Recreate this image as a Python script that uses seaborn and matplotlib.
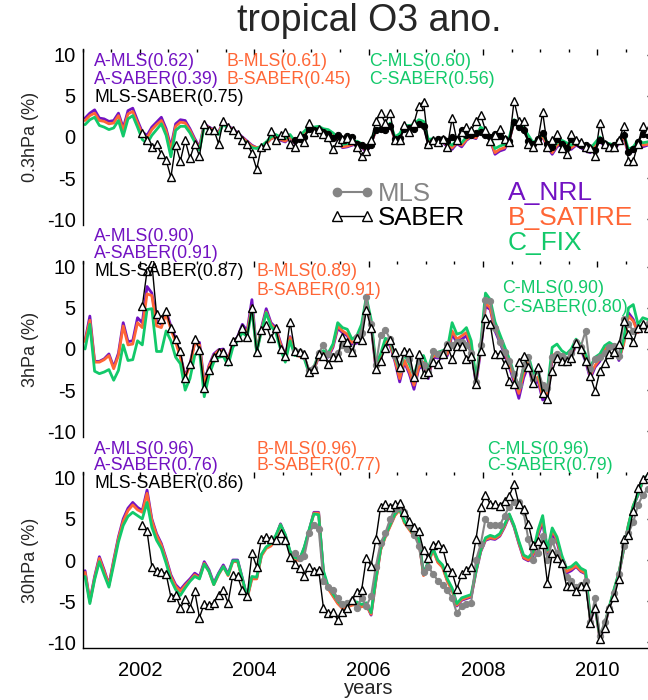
import numpy as np
import seaborn as sns
import matplotlib.pyplot as plt
from matplotlib.lines import Line2D
from matplotlib.legend_handler import HandlerLine2D
from matplotlib.ticker import MultipleLocator

# monthly anomalies (%), Jan 2001 - Dec 2010, mid-month time axis
years = 2001 + (np.arange(120) + 0.5) / 12.0
saber_start = 12   # SABER from Jan 2002
mls_start = 44     # MLS from Sep 2004

# ---------------- 0.3 hPa ----------------
A1 = [2.3, 2.9, 3.3, 2.3, 2.2, 1.9, 2.0, 2.9, 1.1, 3.2, 3.5, 2.0,
      0.6, 0.2, 1.2, 1.8, 2.4, 1.0, -1.2, 1.6, 2.1, 2.0, 1.0, -0.2,
      -1.2, 1.6, 1.2, 0.9, 0.6, 1.9, 1.3, 1.0, 0.5, 0.0, -0.5, -1.0,
      -1.3, -1.2, -0.8, -0.2, 0.0, -0.4, -0.6, 0.0, -0.8, -0.2, 0.4, 1.2,
      1.0, 1.1, 0.8, 0.7, 0.2, -0.4, -1.3, -1.2, -1.0, -0.8, -1.2, -1.9,
      -0.8, 0.8, 0.8, 0.6, 1.5, -0.4, 0.0, 1.2, 1.2, 1.3, 1.9, 1.7,
      -0.8, -0.6, -1.0, -0.6, -1.2, -1.5, -0.8, -1.2, -0.4, 0.0, -0.2, 1.0,
      0.6, -0.4, -2.1, -1.7, -1.5, -0.4, 1.9, 1.5, 0.8, -0.2, -1.2, -0.6,
      0.0, -1.2, -2.1, -1.2, -0.8, -1.2, -1.5, -1.0, -1.3, -1.7, -1.9, -1.2,
      -0.4, -1.2, -1.3, -1.5, -0.8, 0.0, -2.1, -1.7, -0.8, -1.2, -1.0, -0.8]
B1 = [2.0, 2.6, 2.9, 2.0, 1.9, 1.6, 1.7, 2.6, 0.8, 2.8, 3.1, 1.7,
      0.3, -0.1, 0.9, 1.5, 2.0, 0.7, -1.6, 1.3, 1.8, 1.7, 0.8, -0.4,
      -1.4, 1.5, 1.1, 0.8, 0.5, 1.8, 1.2, 0.9, 0.4, -0.1, -0.6, -1.1,
      -1.3, -1.2, -0.8, -0.2, 0.0, -0.3, -0.5, 0.1, -0.7, -0.1, 0.5, 1.2,
      1.0, 1.1, 0.8, 0.7, 0.2, -0.3, -1.2, -1.1, -0.9, -0.7, -1.1, -1.7,
      -0.7, 0.8, 0.8, 0.6, 1.5, -0.3, 0.1, 1.2, 1.2, 1.3, 1.9, 1.7,
      -0.6, -0.5, -0.8, -0.5, -1.0, -1.3, -0.7, -1.0, -0.3, 0.1, -0.1, 1.0,
      0.6, -0.3, -1.9, -1.5, -1.3, -0.3, 1.9, 1.5, 0.8, -0.1, -1.0, -0.5,
      0.1, -1.0, -1.9, -1.0, -0.7, -1.0, -1.3, -0.9, -1.1, -1.5, -1.7, -1.0,
      -0.3, -1.0, -1.1, -1.3, -0.7, 0.1, -1.9, -1.5, -0.7, -1.0, -0.9, -0.7]
C1 = [1.5, 2.1, 2.4, 1.4, 1.2, 0.9, 1.1, 2.0, 0.1, 2.2, 2.6, 1.2,
      -0.3, -0.8, 0.2, 0.9, 1.6, 0.2, -2.4, 0.8, 1.3, 1.3, 0.5, -0.6,
      -1.6, 1.3, 0.9, 0.6, 0.3, 1.6, 1.0, 0.7, 0.2, -0.3, -0.8, -1.3,
      -1.4, -1.1, -0.6, 0.0, 0.3, 0.0, -0.2, 0.3, -0.5, 0.1, 0.7, 1.3,
      1.2, 1.3, 1.0, 0.9, 0.5, 0.0, -0.9, -0.8, -0.7, -0.5, -0.8, -1.4,
      -0.4, 1.0, 1.0, 0.8, 1.7, 0.0, 0.4, 1.4, 1.4, 1.5, 2.1, 1.9,
      -0.3, -0.2, -0.5, -0.2, -0.7, -1.0, -0.4, -0.7, 0.0, 0.4, 0.2, 1.2,
      0.8, 0.0, -1.4, -1.1, -0.9, 0.0, 2.1, 1.7, 1.1, 0.2, -0.7, -0.2,
      0.4, -0.7, -1.5, -0.7, -0.4, -0.7, -1.0, -0.6, -0.8, -1.2, -1.4, -0.7,
      0.0, -0.7, -0.8, -1.0, -0.4, 0.4, -1.5, -1.2, -0.4, -0.7, -0.6, -0.4]
SABER1 = [0.5, -0.4, -1.2, -0.9, -2.1, -2.8, -4.9, -1.0, -2.9, -0.4, -2.6, -0.8,
          -2.3, 1.6, 0.8, 0.9, -0.8, 2.0, 1.2, 0.9, 0.4, -0.4, -0.8, -2.0,
          -3.9, -1.2, -1.0, 0.7, -0.4, 0.2, 0.6, -0.8, -1.2, 0.2, -0.6, 1.7,
          0.6, 1.0, 0.4, 0.0, -1.5, -0.6, -0.2, -0.1, -0.4, -1.2, -2.3, -1.7,
          -0.4, 1.9, 2.9, 1.7, 2.9, -0.4, -0.4, 1.5, 0.6, 1.7, 3.8, 4.3,
          -0.8, -0.4, -0.6, -0.3, -1.2, 2.3, -0.4, 0.6, 1.2, 0.8, 1.9, 2.7,
          0.8, -0.5, 0.3, 1.0, -0.2, -0.6, 4.4, 1.9, 1.9, -0.8, -1.2, -0.4,
          3.0, -1.2, -0.4, 0.4, -1.3, -2.1, 0.4, -0.4, -0.6, -1.2, -1.3, -2.3,
          1.7, -0.8, -1.2, -1.2, -0.4, 1.3, -2.9, -2.9, -0.8, 1.3, 0.8, 0.4]
MLS1 = [-0.4, -0.2, 0.0, 1.0,
        0.9, 0.8, 0.6, 0.4, -0.1, 0.2, -0.3, 0.1, 0.0, -0.8, -1.0, -1.2,
        -1.0, 0.9, 1.0, 0.8, 1.3, -0.2, -0.1, 1.0, 1.1, 1.0, 1.6, 1.3,
        -1.0, -0.5, -0.3, -0.2, -0.5, 0.0, -0.3, 0.9, 0.2, 0.3, 0.5, 0.6,
        0.2, 0.0, 0.4, 0.1, -0.3, -0.5, 1.8, 1.2, 0.8, -0.5, -0.8, -0.2,
        0.5, -0.8, -1.2, -0.3, -0.9, -1.3, -0.3, -0.6, -1.0, -1.0, -1.4, -1.6,
        -0.4, -0.9, -1.2, -1.0, -0.5, 0.3, -1.8, -1.5, -0.6, 0.4, 0.2, 0.0]

# ---------------- 3 hPa ----------------
A2 = [1.0, 4.0, -1.5, -1.5, -1.2, -0.6, -2.2, -0.5, 3.2, 0.9, 1.0, 3.8,
      3.2, 7.6, 6.8, 3.4, 3.0, 4.6, 2.8, 1.2, -0.8, -3.3, -1.8, 0.8,
      0.8, -4.2, -2.0, -0.6, -0.1, 0.0, -1.2, 0.7, 1.5, 3.0, 2.2, 6.0,
      -0.3, 2.6, 4.9, 3.2, 2.6, 0.8, -0.8, 1.5, -0.5, -0.8, -1.0, -2.8,
      -2.5, -1.0, -0.5, -1.0, 0.2, 2.5, 2.0, 1.6, 0.6, 0.7, 2.3, 6.0,
      3.0, -2.4, -1.2, 0.8, 0.4, -1.5, -4.0, -1.6, -3.0, -4.9, -2.4, -2.0,
      -3.6, -1.0, -1.1, -1.1, -0.8, 1.8, 0.8, 1.2, 1.6, 0.0, -4.2, -0.2,
      5.2, 4.8, 2.2, 0.8, -0.6, -2.2, -4.0, -6.0, -3.5, -2.0, -4.5, -3.8,
      -6.2, -5.8, -1.2, -0.8, -1.4, -1.8, -1.0, 0.5, 0.0, -1.5, -3.6, -2.2,
      -1.5, -0.2, 0.2, 0.0, -1.4, 0.8, 4.4, 3.6, 2.0, 2.7, 2.6, 2.8]
B2 = [0.9, 3.5, -1.6, -1.6, -1.3, -0.8, -2.4, -0.8, 2.8, 0.5, 0.6, 3.2,
      2.6, 6.7, 6.5, 2.8, 2.6, 4.3, 2.4, 0.8, -1.0, -3.5, -2.0, 0.7,
      0.5, -4.4, -2.2, -0.8, -0.2, -0.2, -1.3, 0.6, 1.3, 2.6, 2.0, 5.2,
      -0.3, 2.4, 4.5, 3.0, 2.4, 0.6, -0.9, 1.4, -0.6, -0.9, -1.0, -2.8,
      -2.4, -0.9, -0.4, -0.8, 0.4, 2.8, 2.2, 1.8, 0.8, 1.0, 2.5, 6.0,
      3.2, -2.2, -1.0, 1.0, 0.6, -1.3, -3.6, -1.4, -2.7, -4.4, -2.2, -1.6,
      -3.3, -0.8, -0.9, -0.8, -0.6, 2.2, 1.2, 1.6, 2.0, 0.4, -3.9, 0.2,
      5.6, 5.0, 2.5, 1.2, -0.3, -1.8, -3.6, -5.4, -3.0, -1.6, -4.0, -3.4,
      -5.8, -5.4, -0.8, -0.5, -1.2, -1.5, -0.8, 0.7, 0.2, -1.2, -3.2, -2.0,
      -1.2, 0.0, 0.4, 0.2, -1.2, 0.6, 4.0, 3.4, 2.0, 2.6, 2.5, 2.7]
C2 = [0.0, 3.0, -2.7, -3.0, -2.8, -2.5, -3.8, -2.6, 0.5, -1.4, -1.3, 1.0,
      0.5, 4.8, 4.9, -0.3, -0.3, 2.2, 1.0, -1.0, -1.8, -5.0, -3.6, -0.8,
      -0.2, -5.8, -3.2, -1.6, -1.0, -0.9, -2.0, 0.2, 1.0, 2.0, 1.5, 4.8,
      -0.4, 2.2, 4.4, 2.8, 2.0, 0.0, -1.6, 1.0, -0.8, -0.7, -1.2, -3.0,
      -2.2, -0.6, -0.2, -0.5, 0.6, 3.2, 2.6, 2.4, 1.2, 1.6, 3.0, 6.3,
      3.6, -1.8, -0.6, 1.3, 1.0, -0.9, -2.5, -0.6, -1.8, -3.2, -1.2, -0.8,
      -2.4, -0.4, -0.4, -0.2, 0.0, 3.2, 1.8, 2.0, 2.6, 1.0, -3.6, 0.6,
      6.8, 6.0, 3.3, 1.8, 0.3, -1.2, -3.0, -4.8, -2.2, -0.8, -3.0, -2.6,
      -5.0, -4.8, 0.2, 0.6, -0.2, -0.6, 0.0, 1.2, 0.5, -0.6, -2.2, -1.0,
      -0.6, 0.4, 0.8, 0.4, -1.2, 1.2, 5.0, 5.4, 3.0, 3.8, 3.6, 3.4]
SABER2 = [5.2, 9.5, 10.5, 4.2, 3.6, 4.6, 2.6, 1.2, -0.3, -3.5, -1.8, 1.2,
          -0.1, -4.7, -2.5, -1.0, -0.4, -0.4, -1.4, 1.0, 1.5, 2.5, 1.5, 5.0,
          -0.4, 2.3, 2.9, 1.3, 2.5, 0.0, -0.8, 3.3, -0.2, -0.4, -0.6, -2.8,
          -2.4, -0.6, -0.8, -1.8, -1.0, -1.0, 1.5, 0.9, -0.4, 1.3, 1.1, 4.7,
          2.5, -2.4, -1.4, 0.1, 1.1, -0.4, -2.2, -0.2, -0.4, -3.4, -0.6, -3.0,
          -2.8, -1.6, -1.8, -0.6, 0.4, -1.2, 0.4, 0.4, -1.2, -0.8, -4.2, -0.2,
          3.8, 3.0, -0.6, -0.6, -1.8, -3.9, -4.3, -1.6, -0.8, -2.2, -4.1, -2.2,
          -5.4, -6.1, -2.7, -1.1, -1.5, -1.5, -1.1, 0.7, 0.0, -1.5, -3.3, -5.1,
          -2.7, -1.7, -0.6, -0.4, 0.6, 3.4, 1.8, 0.8, 2.6, 3.0, 2.6, 2.8]
MLS2 = [-0.2, -0.4, -0.8, -2.6,
        -2.3, -0.5, 0.5, -0.6, -0.8, -0.5, 0.5, 0.0, -0.3, 1.5, 2.0, 6.3,
        3.0, -2.0, 1.7, 2.3, 1.2, -0.8, -2.4, -0.5, -1.2, -3.5, -1.5, -2.0,
        -2.8, -0.2, -0.6, -0.5, 0.6, 0.5, 0.8, 0.8, 0.5, -0.5, -4.0, 0.5,
        6.0, 5.8, 2.5, 0.8, -0.4, -1.5, -3.0, -4.4, -2.0, -1.0, -3.6, -2.5,
        -4.4, -4.8, -1.0, -0.6, -0.8, -1.2, -0.5, 0.8, 0.3, 2.2, -2.4, -1.2,
        -1.0, -0.5, 0.2, 0.4, -0.8, 3.6, 3.0, 2.2, 2.4, 2.8, 3.0, 3.2]

# ---------------- 30 hPa ----------------
A3 = [-1.3, -5.0, -2.0, 0.4, -1.2, -3.0, 0.0, 2.8, 5.0, 6.3, 7.0, 6.4,
      6.0, 8.5, 5.0, 3.2, 2.0, 0.2, -1.8, -3.0, -3.6, -2.9, -2.3, -1.6,
      -2.0, -0.2, -1.2, -2.8, -1.6, -0.6, -1.7, 0.0, 0.0, -2.2, -4.6, -2.1,
      -2.2, 0.6, 1.5, 1.8, 2.8, 4.4, 3.0, 1.0, 0.2, 0.0, 1.5, 3.6,
      5.8, 5.8, -1.5, -3.4, -4.3, -5.2, -5.8, -5.6, -5.4, -5.3, -5.6, -5.4,
      -6.7, -2.5, 1.3, 2.9, 4.2, 5.5, 6.2, 4.6, 3.8, 3.0, 2.5, -1.8,
      -0.3, 1.3, -0.2, -0.8, -2.5, -3.6, -5.6, -4.9, -4.7, -4.5, -1.5, 1.0,
      2.4, 2.6, 2.5, 2.9, 4.0, 5.4, 4.0, 2.0, 0.2, -0.1, 0.5, 2.9,
      4.6, 0.8, 3.2, 2.2, 0.0, -1.6, -1.3, -0.8, -1.4, -1.7, -7.4, -5.7,
      -9.6, -8.0, -5.8, -3.7, -1.7, 1.3, 4.2, 6.5, 7.9, 9.6, 10.2, 10.6]
B3 = [-1.5, -5.1, -2.2, 0.2, -1.4, -3.1, -0.2, 2.6, 4.7, 6.0, 6.7, 6.1,
      5.8, 8.1, 4.8, 3.0, 1.8, 0.0, -2.0, -3.2, -3.8, -3.1, -2.5, -1.8,
      -2.2, -0.4, -1.4, -3.0, -1.8, -0.8, -1.9, -0.2, -0.2, -2.4, -4.7, -2.3,
      -2.3, 0.5, 1.4, 1.7, 2.7, 4.3, 2.9, 0.9, 0.1, -0.1, 1.4, 3.5,
      5.7, 5.7, -1.6, -3.5, -4.4, -5.3, -5.9, -5.7, -5.5, -5.4, -5.7, -5.5,
      -6.6, -2.6, 1.2, 2.8, 4.1, 5.4, 6.1, 4.5, 3.7, 2.9, 2.4, -1.9,
      -0.4, 1.2, -0.3, -0.9, -2.6, -3.7, -5.5, -4.8, -4.6, -4.4, -1.4, 1.1,
      2.5, 2.7, 2.6, 3.0, 4.1, 5.5, 4.1, 2.1, 0.3, 0.0, 0.7, 3.2,
      5.0, 1.0, 3.6, 2.5, 0.2, -1.4, -1.1, -0.7, -1.3, -1.6, -7.3, -5.6,
      -9.5, -7.9, -5.7, -3.6, -1.6, 1.4, 4.3, 6.6, 8.0, 9.6, 10.2, 10.6]
C3 = [-2.0, -5.3, -2.4, -0.2, -1.8, -3.3, -0.6, 2.2, 4.2, 5.3, 5.8, 5.4,
      5.0, 7.0, 4.0, 2.4, 1.4, -0.4, -2.4, -3.6, -4.3, -3.4, -2.6, -2.0,
      -2.3, -0.5, -1.4, -3.0, -1.7, -0.8, -1.8, -0.1, -0.1, -2.3, -4.5, -2.0,
      -2.1, 0.7, 1.6, 2.0, 3.0, 4.3, 3.1, 1.1, 0.3, 0.1, 1.6, 3.7,
      5.6, 5.5, -1.3, -3.2, -4.1, -5.0, -5.6, -5.4, -5.2, -5.1, -5.4, -5.2,
      -6.4, -2.3, 1.4, 3.0, 4.3, 5.6, 6.2, 4.7, 3.9, 3.1, 2.6, -1.6,
      -0.2, 1.4, 0.0, -0.6, -2.3, -3.4, -5.3, -4.6, -4.4, -4.2, -1.3, 1.2,
      2.7, 3.0, 2.8, 3.2, 4.3, 5.6, 4.2, 2.3, 0.6, 0.3, 1.0, 3.6,
      5.4, 1.2, 3.9, 2.8, 0.6, -1.0, -0.8, -0.3, -1.0, -1.3, -7.2, -5.5,
      -9.4, -7.8, -5.6, -3.5, -1.5, 1.4, 4.3, 6.6, 8.0, 9.7, 10.3, 10.7]
SABER3 = [4.2, 3.5, -0.8, -1.3, -1.4, -1.7, -4.5, -4.2, -5.8, -4.8, -5.8, -3.8,
          -7.0, -5.3, -5.5, -5.2, -4.2, -3.7, -5.2, -1.8, -2.0, -3.7, -4.4, 0.8,
          -0.8, 2.6, 2.8, 2.6, 2.4, 3.3, 2.4, 0.4, -0.5, -1.0, -1.9, -0.8,
          -1.3, -1.2, -5.8, -6.5, -6.3, -7.3, -6.3, -5.8, -4.9, -3.9, -3.7, 0.2,
          -0.7, 2.5, 6.5, 6.8, 6.5, 6.8, 6.9, 5.8, 4.8, 4.0, 3.5, 1.2,
          0.2, 1.8, 2.0, 1.5, -0.8, -1.5, -3.5, -1.7, -1.2, -0.8, 2.5, 6.5,
          7.9, 6.8, 6.8, 6.6, 7.2, 7.8, 9.2, 6.8, 6.2, 4.4, 1.8, 2.3,
          2.0, -2.8, 0.8, 0.3, -0.4, -3.2, -3.2, -3.8, -3.2, -3.2, -7.6, -5.8,
          -9.6, -8.3, -5.8, -4.5, -2.3, 2.6, 3.0, 6.0, 8.8, 9.8, 10.3, 10.6]
MLS3 = [0.8, 0.2, 0.5, 3.3,
        4.2, 3.8, -2.5, -3.3, -3.7, -4.6, -5.4, -5.2, -5.0, -5.8, -4.6, -5.6,
        -4.4, -0.8, 2.1, 3.3, 5.0, 6.2, 6.5, 5.8, 4.2, 3.1, 1.7, -1.5,
        -0.8, -1.7, -2.5, -3.1, -3.7, -4.6, -6.5, -5.6, -5.4, -5.2, 0.0, 1.9,
        5.0, 4.2, 4.2, 4.2, 5.4, 6.5, 7.0, 7.0, 5.8, 2.5, 0.0, 0.8,
        2.9, 0.0, 2.3, 0.8, -0.4, -2.1, -2.5, -3.3, -3.1, -2.5, -7.5, -4.6,
        -9.2, -7.5, -5.8, -4.0, -1.7, 1.7, 3.3, 4.6, 6.7, 7.9, 8.6, 9.2]

# correlation labels per panel: (A-MLS, A-SABER, MLS-SABER, B-MLS, B-SABER, C-MLS, C-SABER)
corr1 = ['0.62', '0.39', '0.75', '0.61', '0.45', '0.60', '0.56']
corr2 = ['0.90', '0.91', '0.87', '0.89', '0.91', '0.90', '0.80']
corr3 = ['0.96', '0.76', '0.86', '0.96', '0.77', '0.96', '0.79']

ylabels = ['0.3hPa (%)', '3hPa (%)', '30hPa (%)']

colA = '#7212C2'
colB = '#FF6636'
colC = '#12C96A'
colMLS = '#858585'

sns.set_style('white')
plt.rcParams['font.family'] = ['Liberation Sans', 'DejaVu Sans']

W, H = 648, 700
fig = plt.figure(figsize=(W / 100, H / 100), dpi=100)


def px(x, y):
    # figure pixel -> figure fraction
    return x / W, 1 - y / H


left = 82.7 / W
width = 572 / W
tops = [49, 261, 472]
axes = [fig.add_axes([left, 1 - (t + 176) / H, width, 176 / H]) for t in tops]

panels = [(A1, B1, C1, MLS1, SABER1), (A2, B2, C2, MLS2, SABER2), (A3, B3, C3, MLS3, SABER3)]

for i, (ax, (a, b, c, mls, sab)) in enumerate(zip(axes, panels)):
    sns.lineplot(x=years, y=a, ax=ax, color=colA, lw=2.0, estimator=None)
    sns.lineplot(x=years, y=b, ax=ax, color=colB, lw=2.0, estimator=None)
    sns.lineplot(x=years, y=c, ax=ax, color=colC, lw=2.0, estimator=None)
    mcol = 'black' if i == 0 else colMLS
    sns.lineplot(x=years[mls_start:], y=mls, ax=ax, color=mcol, lw=1.5, estimator=None,
                 marker='o', markersize=4.5, markeredgecolor=mcol, markerfacecolor=mcol)
    sns.lineplot(x=years[saber_start:], y=sab, ax=ax, color='black', lw=1.0, estimator=None,
                 marker='^', markersize=6, markeredgecolor='black', markerfacecolor='white',
                 markeredgewidth=1.0)

    ax.set_xlim(2001, 2011)
    ax.set_ylim(-10.7, 10.7)
    ax.xaxis.set_major_locator(MultipleLocator(2))
    ax.xaxis.set_minor_locator(MultipleLocator(0.5))
    ax.yaxis.set_major_locator(MultipleLocator(5))
    ax.yaxis.set_minor_locator(MultipleLocator(1))
    ax.tick_params(axis='both', which='both', direction='in', top=True, right=True,
                   labelsize=14.5, colors='black')
    ax.tick_params(axis='y', which='major', length=6, width=1, pad=5)
    ax.tick_params(axis='y', which='minor', length=3.5, width=1)
    ax.tick_params(axis='x', which='major', length=4, width=1, pad=9)
    ax.tick_params(axis='x', which='minor', length=2.5, width=1)
    ax.set_yticks([-10, -5, 0, 5, 10])
    ax.set_yticklabels(['-10', '-5', '0', '5', '10'])
    for s in ax.spines.values():
        s.set_color('black')
        s.set_linewidth(1.0)
    ax.spines['top'].set_visible(False)
    if i < 2:
        ax.spines['bottom'].set_visible(False)
        ax.set_xticklabels([])
    ax.set_ylabel(ylabels[i], fontsize=13, labelpad=6)
    ax.set_xlabel('')

axes[2].set_xticks([2002, 2004, 2006, 2008, 2010])
axes[2].set_xticklabels(['2002', '2004', '2006', '2008', '2010'])
axes[2].set_xlabel('years', fontsize=14.5, labelpad=0)

fig.text(*px(369, 21), 'tropical O3 ano.', ha='center', va='center', fontsize=27)

# correlation annotations
ann_pos = [
    [(94, 62), (94, 79), (94, 97), (226, 62), (226, 79), (369, 62), (369, 79)],
    [(94, 237), (94, 254), (94, 272), (256, 272), (256, 290), (502, 289), (502, 307)],
    [(94, 449), (94, 466), (94, 484), (256, 449), (256, 466), (487, 449), (487, 466)],
]
names = ['A-MLS', 'A-SABER', 'MLS-SABER', 'B-MLS', 'B-SABER', 'C-MLS', 'C-SABER']
ncols = [colA, colA, 'black', colB, colB, colC, colC]
for corr, pos in zip([corr1, corr2, corr3], ann_pos):
    for nm, cv, (x, y), cl in zip(names, corr, pos, ncols):
        fig.text(*px(x, y), f'{nm}({cv})', color=cl, fontsize=12.8, ha='left', va='center')

# legend for observations
handles = [Line2D([], [], color=colMLS, lw=1.5, marker='o', markersize=6,
                  markerfacecolor=colMLS, markeredgecolor=colMLS),
           Line2D([], [], color='black', lw=1.0, marker='^', markersize=7,
                  markerfacecolor='white', markeredgecolor='black')]
leg = axes[0].legend(handles, ['MLS', 'SABER'], loc='center left',
                     bbox_to_anchor=px(337, 206), bbox_transform=fig.transFigure,
                     frameon=False, fontsize=18.5, labelcolor=[colMLS, 'black'],
                     handlelength=1.15, handletextpad=0.45, labelspacing=0.02,
                     borderpad=0, borderaxespad=0, numpoints=2,
                     handler_map={Line2D: HandlerLine2D(marker_pad=0, numpoints=2)})

for lab, cl, y in [('A_NRL', colA, 193), ('B_SATIRE', colB, 218), ('C_FIX', colC, 243)]:
    fig.text(*px(508, y), lab, color=cl, fontsize=19, ha='left', va='center')

fig.savefig('out.png', dpi=100)
